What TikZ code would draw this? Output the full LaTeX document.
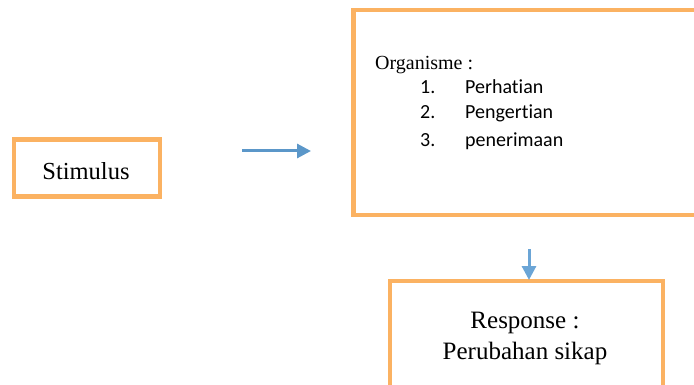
\documentclass[tikz,border=0pt]{standalone}
\usepackage{fontspec}
\setmainfont{Liberation Serif}
\newfontfamily\listfont[Ligatures={NoCommon}]{Carlito}
\usetikzlibrary{arrows.meta}
\definecolor{boxorange}{HTML}{FBB262}
\definecolor{arrblue}{HTML}{5B97C9}
\definecolor{arrblue2}{HTML}{6BA5D6}
\tikzset{
  boxnode/.style={draw=boxorange, line width=4.5pt, rectangle, inner sep=0pt},
  flow/.style={line width=3pt, -{Triangle[length=14pt,width=14pt]}},
  txt/.style={inner sep=0pt, anchor=base},
  listtxt/.style={inner sep=0pt, anchor=base west, font=\listfont\fontsize{20}{24}\selectfont}
}
\begin{document}
\begin{tikzpicture}[x=1pt,y=-1pt]
\useasboundingbox (0,0) rectangle (694,385);
\clip (0,0) rectangle (694,385);
\node[boxnode, minimum width=146pt, minimum height=57pt] (stim) at (87,168) {};
\node[boxnode, minimum width=370pt, minimum height=205pt] (org) at (538.5,112.5) {};
\node[boxnode, minimum width=273pt, minimum height=139pt] (resp) at (526.5,350.5) {};
\node[txt, font=\fontsize{24.5}{28}\selectfont] (stimtxt) at (86,179) {Stimulus};
\node[txt, anchor=base west, font=\fontsize{20}{24}\selectfont] (orgt) at (375,70) {Organisme :};
\node[listtxt] (n1) at (420,94) {1.};
\node[listtxt] (i1) at (465,94) {Perhatian};
\node[listtxt] (n2) at (420,119) {2.};
\node[listtxt] (i2) at (465,119) {Pengertian};
\node[listtxt] (n3) at (420,147) {3.};
\node[listtxt] (i3) at (465,147) {penerimaan};
\node[txt, font=\fontsize{25}{30}\selectfont] (r1) at (525,328) {Response :};
\node[txt, font=\fontsize{25}{30}\selectfont] (r2) at (525,359) {Perubahan sikap};
\coordinate (a1s) at (242,151);
\coordinate (a1e) at (311,151);
\coordinate (a2s) at (529,249);
\coordinate (a2e) at (529,280);
\draw[flow, arrblue] (a1s) -- (a1e);
\draw[flow, arrblue2] (a2s) -- (a2e);
\end{tikzpicture}
\end{document}
